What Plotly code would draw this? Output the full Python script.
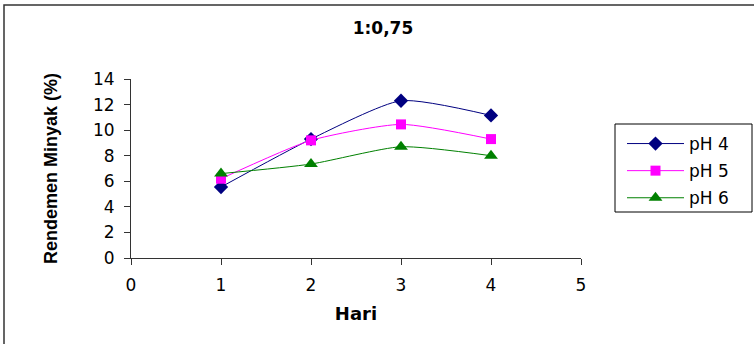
import plotly.graph_objects as go

# Oil yield (%) per day for three pH levels
hari = [1, 2, 3, 4]
ph4 = [5.55, 9.3, 12.3, 11.15]
ph5 = [6.2, 9.2, 10.45, 9.3]
ph6 = [6.6, 7.35, 8.7, 8.0]

x_ticks = [0, 1, 2, 3, 4, 5]
y_ticks = [0, 2, 4, 6, 8, 10, 12, 14]

series = [
    ("pH 4", ph4, "#000080", "diamond", 11),
    ("pH 5", ph5, "#FF00FF", "square", 10),
    ("pH 6", ph6, "#008000", "triangle-up", 12),
]

# plot-area placement in pixels
W, H = 754, 344
L, R, T, B = 131, 581, 79, 258
pw, ph = R - L, B - T


def px_x(v):
    return (v - L) / pw


def px_y(v):
    return (B - v) / ph


fig = go.Figure()
for i, (name, vals, color, symbol, size) in enumerate(series):
    fig.add_trace(go.Scatter(
        x=hari, y=vals, name=name, mode="lines+markers",
        line=dict(color=color, width=1, shape="spline", smoothing=0.6),
        marker=dict(color=color, symbol=symbol, size=size),
        legendgroup=f"g{i}",
    ))

sans = "DejaVu Sans, Liberation Sans, Arial, sans-serif"
axis_col = "#333333"

fig.update_layout(
    width=W, height=H,
    margin=dict(l=L, r=W - R, t=T, b=H - B),
    paper_bgcolor="white", plot_bgcolor="white",
    font=dict(family=sans, size=17, color="black"),
    title=dict(text="<b>1:0,75</b>", xref="container", x=383 / W, xanchor="center",
               yref="container", y=1 - 28 / H, yanchor="middle",
               font=dict(size=17, family=sans)),
    xaxis=dict(
        range=[0, 5], tickvals=x_ticks, showgrid=False, zeroline=False,
        showline=True, linecolor=axis_col, linewidth=1,
        ticks="outside", ticklen=6, tickcolor=axis_col,
        ticklabelstandoff=6, tickfont=dict(size=17),
        title=dict(text="<b>Hari</b>", font=dict(size=18), standoff=12),
    ),
    yaxis=dict(
        range=[0, 14], tickvals=y_ticks, showgrid=False, zeroline=False,
        showline=True, linecolor=axis_col, linewidth=1,
        ticks="outside", ticklen=6, tickcolor=axis_col,
        ticklabelstandoff=6, tickfont=dict(size=17),
        title=dict(text="<b>Rendemen Minyak (%)</b>",
                   font=dict(size=18, family="Liberation Sans, Arial, sans-serif"),
                   standoff=30),
    ),
    legend=dict(
        x=px_x(622), y=px_y(126), xanchor="left", yanchor="top",
        borderwidth=0, bgcolor="rgba(0,0,0,0)",
        font=dict(size=17), tracegroupgap=2, itemwidth=57,
    ),
    showlegend=True,
)

# legend frame
fig.add_shape(type="rect", xref="paper", yref="paper",
              x0=px_x(615), x1=px_x(752), y0=px_y(212), y1=px_y(124),
              line=dict(color="black", width=1), fillcolor="white", layer="below")

# outer chart-area frame
fig.add_shape(type="rect", xref="paper", yref="paper",
              x0=px_x(4), x1=px_x(760), y0=px_y(350), y1=px_y(5),
              line=dict(color=axis_col, width=1.5), fillcolor="rgba(0,0,0,0)",
              layer="below")

fig.write_html("out.html")
